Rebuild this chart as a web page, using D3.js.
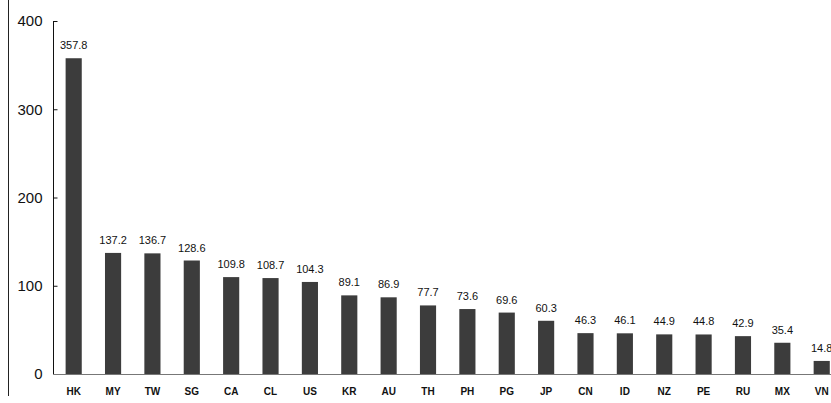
<!DOCTYPE html>
<html><head><meta charset="utf-8">
<script src="https://cdn.jsdelivr.net/npm/d3@7"></script>
<style>body{margin:0;background:#fff;}svg{display:block;}</style>
</head><body>
<script>
const categories = ["HK","MY","TW","SG","CA","CL","US","KR","AU","TH","PH","PG","JP","CN","ID","NZ","PE","RU","MX","VN"];
const values = [357.8,137.2,136.7,128.6,109.8,108.7,104.3,89.1,86.9,77.7,73.6,69.6,60.3,46.3,46.1,44.9,44.8,42.9,35.4,14.8];
const yTicks = [0,100,200,300,400];

const W = 831, H = 403;
const svg = d3.select("body").append("svg").attr("width", W).attr("height", H);

const x = d3.scaleBand().domain(categories).range([54, 841.4]).paddingInner(0.59).paddingOuter(0.295);
const y = d3.scaleLinear().domain([0,400]).range([374, 21]);

// scan border line at left
svg.append("line").attr("x1",8.5).attr("x2",8.5).attr("y1",0).attr("y2",396).attr("stroke","#222").attr("stroke-width",1);

// bars
svg.selectAll("rect.bar").data(values).join("rect")
  .attr("class","bar")
  .attr("x",(d,i)=>x(categories[i]))
  .attr("width",x.bandwidth())
  .attr("y",d=>y(d))
  .attr("height",d=>y(0)-y(d))
  .attr("fill","#3c3c3c");

// value labels
svg.selectAll("text.val").data(values).join("text")
  .attr("class","val")
  .attr("x",(d,i)=>x(categories[i])+x.bandwidth()/2)
  .attr("y",d=>y(d)-9)
  .attr("text-anchor","middle")
  .attr("font-family","Liberation Sans, Arial, sans-serif")
  .attr("font-size",11)
  .attr("fill","#111")
  .text(d=>d.toFixed(1));

// y axis
const yAxis = svg.append("g").attr("transform","translate(53.5,0)")
  .call(d3.axisRight(y).tickValues(yTicks).tickSize(4).tickFormat(d3.format("d")));
yAxis.select(".domain").attr("stroke","#111").attr("d","M0,"+y(400)+"V"+y(0));
yAxis.selectAll(".tick line").attr("stroke","#111");
yAxis.selectAll(".tick text")
  .attr("x",-11).attr("text-anchor","end")
  .attr("font-family","Liberation Sans, Arial, sans-serif")
  .attr("font-size",15).attr("fill","#111");

// x axis
const xAxis = svg.append("g").attr("transform","translate(0,374.5)")
  .call(d3.axisBottom(x).tickSize(0).tickPadding(13));
xAxis.select(".domain").attr("stroke","#777").attr("d","M53.5,0H831");
xAxis.selectAll(".tick text")
  .attr("font-family","Liberation Sans, Arial, sans-serif")
  .attr("font-size",10).attr("font-weight","bold").attr("fill","#111");
</script>
</body></html>
